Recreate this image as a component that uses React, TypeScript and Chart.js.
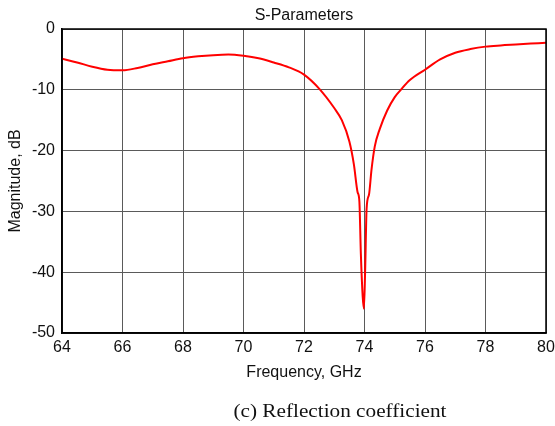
import React, { useEffect, useRef } from "react";
import { Chart, registerables } from "chart.js";

Chart.register(...registerables);

const frequencyGHz = [
  64, 64.5, 65, 65.5, 66, 66.5, 67, 67.5, 68, 68.5, 69, 69.5, 70, 70.5, 71, 71.5,
  72, 72.5, 73, 73.25, 73.5, 73.65, 73.77, 73.83, 73.88, 73.94, 73.98, 74.02,
  74.07, 74.15, 74.23, 74.34, 74.5, 74.75, 75.0, 75.2, 75.5, 76, 76.5, 77, 77.5,
  78, 78.5, 79, 79.5, 80,
];
const magnitudeDb = [
  -4.9, -5.5, -6.2, -6.7, -6.8, -6.4, -5.8, -5.3, -4.8, -4.5, -4.3, -4.2, -4.4, -4.8, -5.5, -6.3,
  -7.5, -9.8, -13.0, -15.0, -18.5, -22.3, -26.8, -28.3, -37.0, -44.0, -46.0, -40.0,
  -29.5, -27.2, -23.2, -19.3, -16.5, -13.4, -11.2, -10.0, -8.4, -6.7, -5.0, -3.9, -3.3,
  -2.9, -2.7, -2.55, -2.4, -2.25,
];
const chartTitle = "S-Parameters";
const xAxisTitle = "Frequency, GHz";
const yAxisTitle = "Magnitude, dB";
const caption = "(c) Reflection coefficient";

const FONT = "'Liberation Sans', Arial, sans-serif";

const framePlugin = {
  id: "frame",
  afterDraw(chart: any) {
    const { ctx, chartArea } = chart;
    ctx.save();
    ctx.strokeStyle = "#000";
    ctx.lineWidth = 1.5;
    ctx.strokeRect(chartArea.left, chartArea.top, chartArea.right - chartArea.left, chartArea.bottom - chartArea.top);
    ctx.restore();
  },
};

export default function App() {
  const canvasRef = useRef<HTMLCanvasElement | null>(null);

  useEffect(() => {
    document.body.style.margin = "0";
    const canvas = canvasRef.current;
    if (!canvas) return;
    const data = frequencyGHz.map((f, i) => ({ x: f, y: magnitudeDb[i] }));
    const chart = new Chart(canvas, {
      type: "line",
      data: {
        datasets: [
          {
            data,
            borderColor: "#ff0000",
            borderWidth: 2,
            pointRadius: 0,
            fill: false,
            cubicInterpolationMode: "monotone",
          },
        ],
      },
      options: {
        animation: false,
        responsive: true,
        maintainAspectRatio: false,
        layout: { padding: { left: 0, right: 0, top: 0, bottom: 41 } },
        plugins: {
          legend: { display: false },
          tooltip: { enabled: false },
          title: {
            display: true,
            text: chartTitle,
            fullSize: false,
            color: "#111",
            font: { family: FONT, size: 16, weight: "normal" },
            padding: { top: 6.4, bottom: 3.4 },
          },
        },
        scales: {
          x: {
            type: "linear",
            min: 64,
            max: 80,
            afterFit(scale: any) {
              scale.height = 52;
              scale.paddingLeft = 0;
              scale.paddingRight = 9;
            },
            ticks: {
              stepSize: 2,
              color: "#111",
              padding: 5,
              maxRotation: 0,
              font: { family: FONT, size: 16 },
            },
            grid: { color: "#5a5a5a", lineWidth: 1, drawTicks: false },
            border: { color: "#000", width: 1.5 },
            title: {
              display: true,
              text: xAxisTitle,
              color: "#111",
              font: { family: FONT, size: 16 },
              padding: { top: 0, bottom: 2.9 },
            },
          },
          y: {
            type: "linear",
            min: -50,
            max: 0,
            afterFit(scale: any) {
              scale.width = 62;
            },
            ticks: {
              stepSize: 10,
              color: "#111",
              padding: 7,
              font: { family: FONT, size: 16 },
            },
            grid: { color: "#5a5a5a", lineWidth: 1, drawTicks: false },
            border: { color: "#000", width: 1.5 },
            title: {
              display: true,
              text: yAxisTitle,
              color: "#111",
              font: { family: FONT, size: 16 },
              padding: { top: 5.5, bottom: 0 },
            },
          },
        },
      },
      plugins: [framePlugin],
    } as any);
    return () => chart.destroy();
  }, []);

  return (
    <div style={{ position: "relative", width: 555, height: 426 }}>
      <canvas ref={canvasRef} />
      <div
        style={{
          position: "absolute",
          left: 0,
          width: 680,
          top: 399,
          textAlign: "center",
          fontFamily: "'Liberation Serif', 'Times New Roman', serif",
          fontSize: 18,
          lineHeight: "24px",
          color: "#111",
          whiteSpace: "nowrap",
          transform: "scaleX(1.18)",
          transformOrigin: "340px 50%",
        }}
      >
        {caption}
      </div>
    </div>
  );
}
